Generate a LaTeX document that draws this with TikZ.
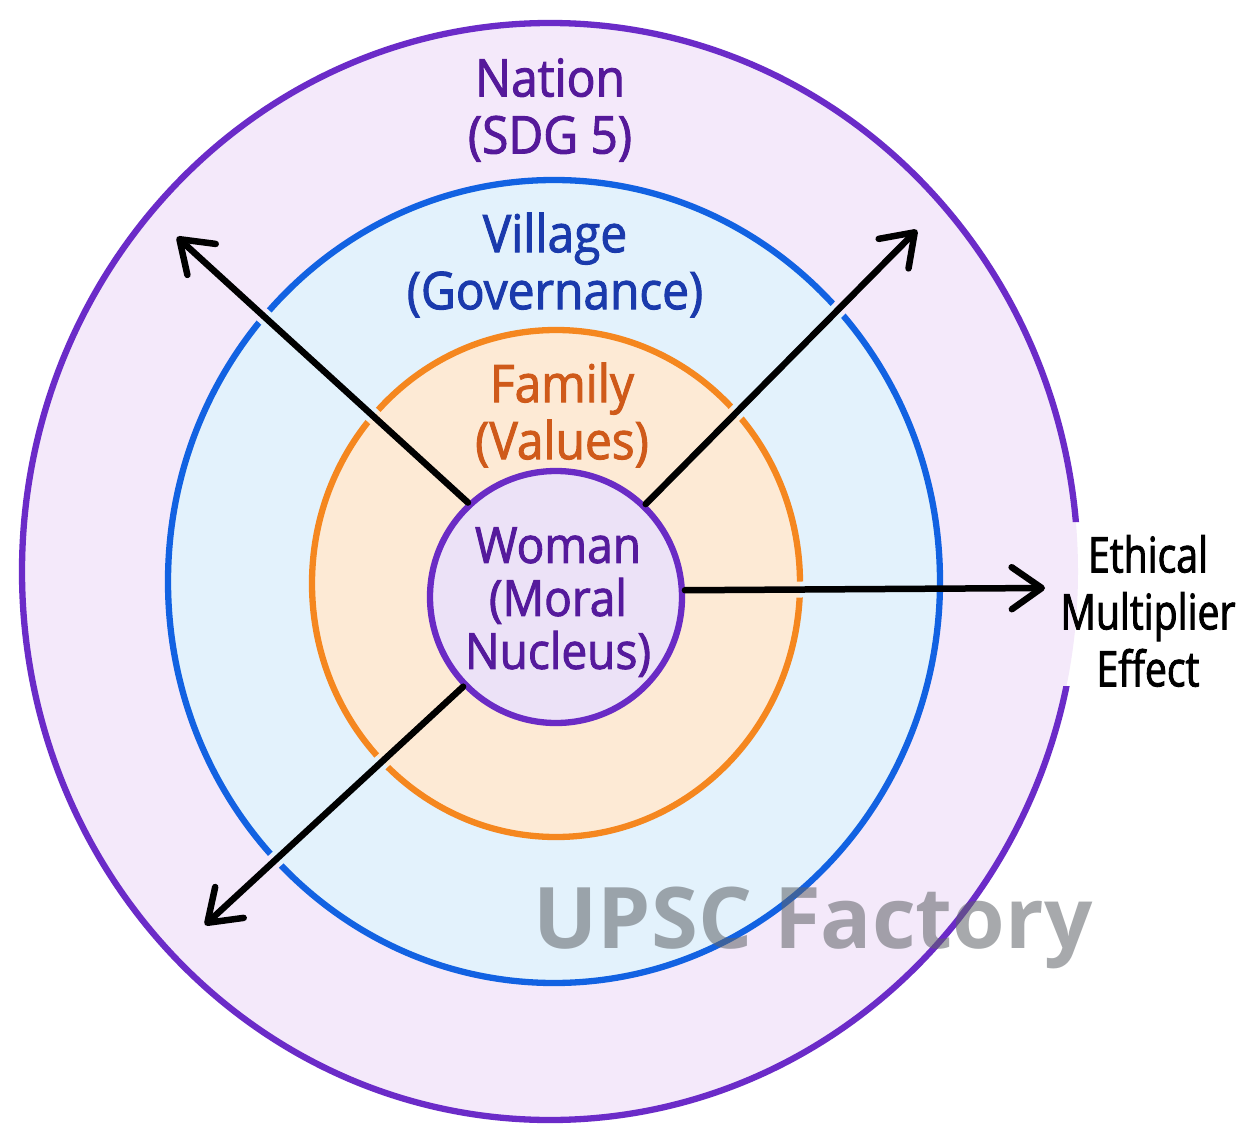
\documentclass[tikz,border=0pt]{standalone}
\usepackage{fontspec}
\usetikzlibrary{arrows.meta,calc}
\newfontfamily\handfont[FakeStretch=0.92,FakeBold=1.8]{Open Sans}
\newfontfamily\handnarrow[FakeStretch=0.8,FakeBold=1.8]{Open Sans}
\newfontfamily\wmfont{Open Sans}
\definecolor{natfill}{HTML}{F4E9FA}
\definecolor{natline}{HTML}{6B2BC8}
\definecolor{vilfill}{HTML}{E3F2FC}
\definecolor{villine}{HTML}{1262E2}
\definecolor{famfill}{HTML}{FDEAD5}
\definecolor{famline}{HTML}{F5871F}
\definecolor{womfill}{HTML}{ECE2F7}
\definecolor{womline}{HTML}{6A2BC5}
\definecolor{nattext}{HTML}{55199A}
\definecolor{viltext}{HTML}{1A3AAC}
\definecolor{famtext}{HTML}{CF5A1A}
\definecolor{womtext}{HTML}{551A9C}
\definecolor{wmgray}{HTML}{5F6368}
\begin{document}
\begin{tikzpicture}[x=1pt,y=-1pt,
  ring/.style={line width=6.3pt},
  arr/.style={line width=6.5pt, black, line cap=round,
    -{Straight Barb[length=30pt,width=42pt,round]}},
  lbl/.style={font=\handfont\fontsize{52}{57}\selectfont, align=center, inner sep=0pt},
  rlbl/.style={font=\handnarrow\fontsize{49}{57}\selectfont, align=center, inner sep=0pt, text=black},
  wm/.style={font=\wmfont\bfseries\fontsize{85}{90}\selectfont, text=wmgray, text opacity=0.55, inner sep=0pt}
]
\useasboundingbox[fill=white] (0,0) rectangle (1243,1145);
% fills
\fill[natfill] (550,571.5) ellipse [x radius=528, y radius=548.5];
\fill[vilfill] (554,581.5) ellipse [x radius=386, y radius=401.5];
\fill[famfill] (556,583.5) ellipse [x radius=244, y radius=253.5];
% nucleus
\node[circle, draw=womline, fill=womfill, line width=6.3pt, minimum size=252pt, inner sep=0pt] (woman) at (556,597) {};
% arrow end points
\coordinate (nwtip) at (177,237);
\coordinate (netip) at (917,230);
\coordinate (swtip) at (205,925);
\coordinate (etip) at (1045,588);
\coordinate (ecut) at (880,589);
\coordinate (nws) at (woman.133);
\coordinate (nes) at (woman.46);
\coordinate (sws) at (woman.224);
\coordinate (es) at (woman.3);
% ring outlines with gaps where the arrows cross
\begin{scope}[even odd rule]
\clip (0,0) rectangle (1243,1145)
  ($(nws)!8pt!90:(nwtip)$) -- ($(nwtip)!8pt!-90:(nws)$) -- ($(nwtip)!8pt!90:(nws)$) -- ($(nws)!8pt!-90:(nwtip)$) -- cycle
  ($(nes)!8pt!90:(netip)$) -- ($(netip)!8pt!-90:(nes)$) -- ($(netip)!8pt!90:(nes)$) -- ($(nes)!8pt!-90:(netip)$) -- cycle
  ($(sws)!8pt!90:(swtip)$) -- ($(swtip)!8pt!-90:(sws)$) -- ($(swtip)!8pt!90:(sws)$) -- ($(sws)!8pt!-90:(swtip)$) -- cycle
  ($(es)!8pt!90:(ecut)$) -- ($(ecut)!8pt!-90:(es)$) -- ($(ecut)!8pt!90:(es)$) -- ($(es)!8pt!-90:(ecut)$) -- cycle
  (1030,522) rectangle (1243,686);
\draw[ring, natline] (550,571.5) ellipse [x radius=528, y radius=548.5];
\draw[ring, villine] (554,581.5) ellipse [x radius=386, y radius=401.5];
\draw[ring, famline] (556,583.5) ellipse [x radius=244, y radius=253.5];
\end{scope}
% arrows
\draw[arr] (woman.133) -- (nwtip);
\draw[arr] (woman.46) -- (netip);
\draw[arr] (woman.224) -- (swtip);
\draw[arr] (woman.3) -- (etip);
% labels
\node[lbl, text=nattext] (nation) at (550,110) {Nation\\(SDG 5)};
\node[lbl, text=viltext] (village) at (555,265) {Village\\(Governance)};
\node[lbl, text=famtext] (family) at (562,415) {Family\\(Values)};
\node[lbl, text=womtext, font=\handfont\fontsize{50}{53}\selectfont] (womantext) at (558,602) {Woman\\(Moral\\Nucleus)};
\node[rlbl] (effect) at (1148,611) {Ethical\\Multiplier\\Effect};
\node[wm, anchor=base] (upsc) at (813,948) {UPSC Factory};
\end{tikzpicture}
\end{document}
